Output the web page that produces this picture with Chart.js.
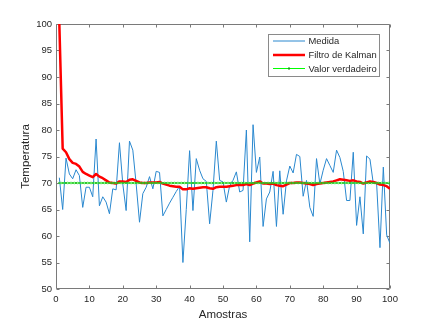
<!DOCTYPE html>
<html>
<head>
<meta charset="utf-8">
<script src="https://cdn.jsdelivr.net/npm/chart.js@4/dist/chart.umd.min.js"></script>
<style>
  html, body { margin: 0; padding: 0; background: #ffffff; }
  #wrap { width: 431px; height: 324px; }
</style>
</head>
<body>
<div id="wrap"><canvas id="c" width="431" height="324"></canvas></div>
<script>
const amostras = [1,2,3,4,5,6,7,8,9,10,11,12,13,14,15,16,17,18,19,20,21,22,23,24,25,26,27,28,29,30,31,32,33,34,35,36,37,38,39,40,41,42,43,44,45,46,47,48,49,50,51,52,53,54,55,56,57,58,59,60,61,62,63,64,65,66,67,68,69,70,71,72,73,74,75,76,77,78,79,80,81,82,83,84,85,86,87,88,89,90,91,92,93,94,95,96,97,98,99,100];

const medida = [71.0,65.0,74.7,71.7,70.8,72.5,71.4,65.4,69.2,69.2,
  67.4,78.3,65.7,67.4,66.4,64.2,68.9,68.7,77.6,69.8,
  64.8,77.9,76.2,69.8,62.6,68.0,69.2,71.2,68.9,72.2,
  72.0,63.8,65.0,66.2,67.3,68.4,69.4,55.0,65.0,76.1,
  64.8,74.6,72.4,70.8,70.3,62.3,68.6,77.9,70.5,70.2,
  66.4,69.5,70.5,72.1,68.3,68.6,80.0,58.9,81.0,72.0,
  74.9,61.8,67.0,68.3,72.2,61.8,72.3,64.1,70.4,73.2,
  71.9,75.4,75.0,67.5,70.5,65.4,63.7,74.6,69.8,72.4,
  74.6,73.3,72.0,76.2,74.8,72.2,66.7,66.7,75.8,62.0,
  67.4,60.4,75.1,74.5,69.9,69.9,57.8,73.0,60.2,58.6];

const filtroKalman = [100.0,76.5,75.8,74.5,73.8,73.6,73.1,72.1,71.7,71.4,
  71.1,71.7,71.2,70.9,70.5,70.1,70.0,69.9,70.3,70.3,
  70.2,70.6,70.7,70.4,70.1,70.0,70.0,70.1,70.1,70.1,
  70.2,69.9,69.7,69.5,69.4,69.3,69.3,68.8,68.8,69.0,
  68.9,69.0,69.1,69.2,69.2,69.0,68.9,69.2,69.3,69.3,
  69.3,69.4,69.5,69.6,69.6,69.6,69.8,69.6,69.9,70.1,
  70.3,69.9,69.9,69.8,69.9,69.6,69.5,69.4,69.7,70.0,
  70.0,70.1,70.1,70.0,69.9,69.8,69.6,69.8,69.9,70.0,
  70.1,70.2,70.3,70.5,70.7,70.6,70.5,70.4,70.5,70.3,
  70.2,69.9,70.1,70.3,70.2,70.0,69.7,69.6,69.4,68.9];

const valorVerdadeiro = [70,70,70,70,70,70,70,70,70,70,70,70,70,70,70,70,70,70,70,70,
  70,70,70,70,70,70,70,70,70,70,70,70,70,70,70,70,70,70,70,70,
  70,70,70,70,70,70,70,70,70,70,70,70,70,70,70,70,70,70,70,70,
  70,70,70,70,70,70,70,70,70,70,70,70,70,70,70,70,70,70,70,70,
  70,70,70,70,70,70,70,70,70,70,70,70,70,70,70,70,70,70,70,70];

const xTickValues = [0,10,20,30,40,50,60,70,80,90,100];
const yTickValues = [50,55,60,65,70,75,80,85,90,95,100];
const seriesNames = ['Medida', 'Filtro de Kalman', 'Valor verdadeiro'];
const xTitle = 'Amostras';
const yTitle = 'Temperatura';

const FONT = '"Liberation Sans", Arial, Helvetica, sans-serif';
const TEXT = '#262626';
const AXIS = '#7a7a7a';
const COLORS = ['#2a88cf', '#FF0000', '#00FF00'];

function pts(ys) { return amostras.map((x, i) => ({ x: x, y: ys[i] })); }

const boxPlugin = {
  id: 'box',
  beforeDatasetsDraw(chart) {
    const { ctx, chartArea: a, scales: { x, y } } = chart;
    ctx.save();
    ctx.strokeStyle = AXIS;
    ctx.lineWidth = 1;
    ctx.beginPath();
    const L = Math.round(a.left) + 0.5, R = Math.round(a.right) - 0.5;
    const T = Math.round(a.top) + 0.5, B = Math.round(a.bottom) - 0.5;
    ctx.rect(L, T, R - L, B - T);
    const tl = 3;
    xTickValues.forEach(v => {
      const px = Math.round(x.getPixelForValue(v)) + 0.5;
      ctx.moveTo(px, B); ctx.lineTo(px, B - tl);
      ctx.moveTo(px, T); ctx.lineTo(px, T + tl);
    });
    yTickValues.forEach(v => {
      const py = Math.round(y.getPixelForValue(v)) + 0.5;
      ctx.moveTo(L, py); ctx.lineTo(L + tl, py);
      ctx.moveTo(R, py); ctx.lineTo(R - tl, py);
    });
    ctx.stroke();
    ctx.restore();
  },
  afterDraw(chart) {
    const { ctx } = chart;
    ctx.save();
    const bx = 268.5, by = 34.5, bw = 111, bh = 42;
    ctx.fillStyle = '#ffffff';
    ctx.fillRect(bx, by, bw, bh);
    ctx.strokeStyle = '#8a8a8a';
    ctx.lineWidth = 1;
    ctx.strokeRect(bx, by, bw, bh);
    const rows = [41, 55, 68.5];
    const widths = [1, 2.5, 1];
    ctx.font = '9.4px ' + FONT;
    ctx.textBaseline = 'middle';
    ctx.textAlign = 'left';
    seriesNames.forEach((name, i) => {
      ctx.strokeStyle = COLORS[i];
      ctx.lineWidth = widths[i];
      ctx.beginPath();
      ctx.moveTo(273, rows[i]);
      ctx.lineTo(305, rows[i]);
      ctx.stroke();
      if (i === 2) {
        ctx.fillStyle = '#1a9a1a';
        ctx.fillRect(288, rows[i] - 1, 2, 2);
      }
      ctx.fillStyle = TEXT;
      ctx.fillText(name, 308.5, rows[i] + 0.5);
    });
    ctx.restore();
  }
};

new Chart(document.getElementById('c'), {
  type: 'line',
  data: {
    datasets: [
      {
        label: seriesNames[0], data: pts(medida),
        borderColor: COLORS[0], borderWidth: 1, pointRadius: 0,
        tension: 0, order: 2
      },
      {
        label: seriesNames[1], data: pts(filtroKalman),
        borderColor: COLORS[1], borderWidth: 2.5, pointRadius: 0,
        tension: 0, order: 1
      },
      {
        label: seriesNames[2], data: pts(valorVerdadeiro),
        borderColor: COLORS[2], borderWidth: 1.2,
        pointStyle: 'crossRot', pointRadius: 1.6, pointBorderWidth: 1,
        pointBorderColor: '#2fbf2f', pointBackgroundColor: '#2fbf2f',
        tension: 0, order: 0
      }
    ]
  },
  options: {
    responsive: false,
    animation: false,
    devicePixelRatio: 1,
    layout: { padding: { left: 0, right: 41, top: 24, bottom: 0 } },
    plugins: { legend: { display: false }, tooltip: { enabled: false } },
    elements: { line: { borderJoinStyle: 'round' } },
    scales: {
      x: {
        type: 'linear', min: 0, max: 100,
        afterBuildTicks(s) { s.ticks = xTickValues.map(v => ({ value: v })); },
        afterFit(s) { s.height = 35; },
        grid: { display: false, drawTicks: false },
        border: { display: false },
        ticks: { color: TEXT, font: { family: FONT, size: 9.5 }, padding: 5, maxRotation: 0 },
        title: { display: true, text: xTitle, color: TEXT, font: { family: FONT, size: 11.5 }, padding: { top: 0, bottom: 2 } }
      },
      y: {
        type: 'linear', min: 50, max: 100,
        afterBuildTicks(s) { s.ticks = yTickValues.map(v => ({ value: v })); },
        afterFit(s) { s.width = 56; },
        grid: { display: false, drawTicks: false },
        border: { display: false },
        ticks: { color: TEXT, font: { family: FONT, size: 9.5 }, padding: 4 },
        title: { display: true, text: yTitle, color: TEXT, font: { family: FONT, size: 11.5 }, padding: { top: 19, bottom: 0 } }
      }
    }
  },
  plugins: [boxPlugin]
});
</script>
</body>
</html>
